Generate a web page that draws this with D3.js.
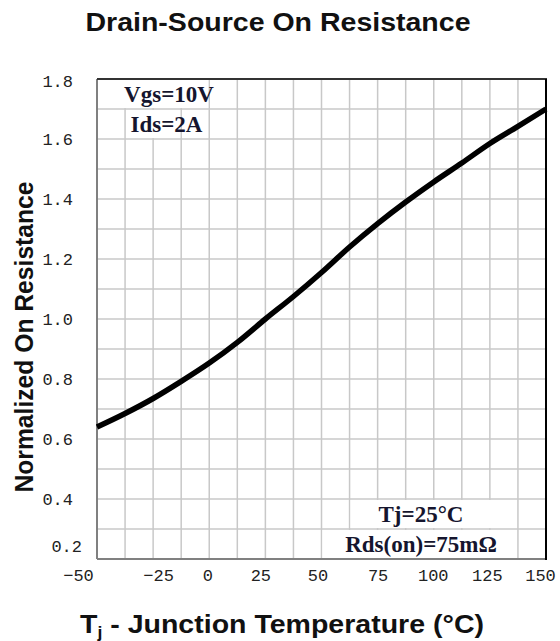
<!DOCTYPE html>
<html><head><meta charset="utf-8">
<script src="https://cdn.jsdelivr.net/npm/d3@7"></script>
<style>body{margin:0;background:#fff}svg{display:block}</style>
</head><body><svg id="c" width="560" height="641"></svg>
<script>
const temps = [-50,-37.5,-25,-12.5,0,12.5,25,37.5,50,62.5,75,87.5,100,112.5,125,137.5,150];
const resistance = [0.64,0.685,0.735,0.792,0.853,0.922,1.0,1.075,1.155,1.24,1.318,1.39,1.457,1.52,1.585,1.642,1.70];
const xTicks = [-50,-25,0,25,50,75,100,125,150];
const yTicks = [0.2,0.4,0.6,0.8,1.0,1.2,1.4,1.6,1.8];
const xGrid = d3.range(-50, 150.1, 12.5);
const yGrid = d3.range(2, 18.1, 1).map(d => d/10);
const titleText = "Drain-Source On Resistance";
const yTitle = "Normalized On Resistance";
const noteTop = ["Vgs=10V","Ids=2A"];
const noteBottom = ["Tj=25°C","Rds(on)=75mΩ"];

const svg = d3.select("#c");
const L = 97, R = 546, T = 79, B = 559;
const x = d3.scaleLinear().domain([-50,150]).range([L,R]);
const y = d3.scaleLinear().domain([0.2,1.8]).range([B,T]);

// grid
const g = svg.append("g");
g.selectAll(".vx").data(xGrid).join("line")
  .attr("x1", d=>x(d)).attr("x2", d=>x(d)).attr("y1", T).attr("y2", B)
  .attr("stroke", "#c8c8c8").attr("stroke-width", 1.5);
g.selectAll(".hy").data(yGrid).join("line")
  .attr("x1", L).attr("x2", R).attr("y1", d=>y(d)).attr("y2", d=>y(d))
  .attr("stroke", "#c8c8c8").attr("stroke-width", 1.5);

// annotation cells (white, covering grid)
const boxes = [
  {x0:-50, x1:0, y0:1.8, y1:1.7},
  {x0:-37.5, x1:-12.5, y0:1.7, y1:1.6},
  {x0:62.5, x1:137.5, y0:0.4, y1:0.3},
  {x0:50, x1:137.5, y0:0.3, y1:0.2}
];
g.selectAll(".bx").data(boxes).join("rect")
  .attr("x", d=>x(d.x0)+1).attr("y", d=>y(d.y0)+1)
  .attr("width", d=>x(d.x1)-x(d.x0)-2).attr("height", d=>y(d.y1)-y(d.y0)-2)
  .attr("fill", "#fff");

// frame
svg.append("line").attr("x1",L).attr("x2",L).attr("y1",T).attr("y2",B).attr("stroke","#808080").attr("stroke-width",2);
svg.append("line").attr("x1",L).attr("x2",R).attr("y1",B).attr("y2",B).attr("stroke","#808080").attr("stroke-width",2);
svg.append("line").attr("x1",L).attr("x2",R+1).attr("y1",T).attr("y2",T).attr("stroke","#333").attr("stroke-width",2);
svg.append("line").attr("x1",R).attr("x2",R).attr("y1",T).attr("y2",B+1).attr("stroke","#000").attr("stroke-width",2);

// curve
const line = d3.line().x((d,i)=>x(temps[i])).y(d=>y(d)).curve(d3.curveMonotoneX);
svg.append("path").datum(resistance).attr("d", line)
  .attr("fill","none").attr("stroke","#000").attr("stroke-width",5.5).attr("stroke-linecap","butt");

// axes
const tickFont = "'Liberation Mono', 'DejaVu Sans Mono', monospace";
const xLabelShift = {"-50":-19, "-25":5, "0":-2, "25":-5, "50":-4, "75":0, "100":-1, "125":-3, "150":-6};
const ax = svg.append("g").attr("transform", `translate(0,${B})`)
  .call(d3.axisBottom(x).tickValues(xTicks).tickSize(0).tickPadding(10).tickFormat(d => d<0 ? "−"+Math.abs(d) : d));
ax.select(".domain").remove();
ax.selectAll("text").attr("font-family", tickFont).attr("font-size", 17).attr("fill", "#222")
  .attr("dx", d => xLabelShift[String(d)]);

const ay = svg.append("g").attr("transform", `translate(${L-24},0)`)
  .call(d3.axisLeft(y).tickValues(yTicks).tickSize(0).tickPadding(0).tickFormat(d3.format(".1f")));
ay.select(".domain").remove();
ay.selectAll("text").attr("font-family", tickFont).attr("font-size", 17).attr("fill", "#222")
  .attr("dy", d => d===1.8 ? "0.45em" : (d===0.2 ? "-0.45em" : "0.32em"))
  .attr("dx", d => d===0.2 ? 9 : 0);

// titles
const titleFont = "'Liberation Sans', Arial, sans-serif";
svg.append("text").attr("x", 278).attr("y", 31).attr("text-anchor","middle")
  .attr("font-family", titleFont).attr("font-weight","bold").attr("font-size",26).attr("fill","#111")
  .attr("textLength", 385).attr("lengthAdjust","spacingAndGlyphs")
  .text(titleText);
const xt = svg.append("text").attr("x", 282).attr("y", 633).attr("text-anchor","middle")
  .attr("font-family", titleFont).attr("font-weight","bold").attr("font-size",26).attr("fill","#111")
  .attr("textLength", 404).attr("lengthAdjust","spacingAndGlyphs");
xt.append("tspan").text("T");
xt.append("tspan").attr("font-size",16).attr("dy",5).text("j");
xt.append("tspan").attr("dy",-5).text(" - Junction Temperature (°C)");
svg.append("text").attr("transform","translate(33,337) rotate(-90)").attr("text-anchor","middle")
  .attr("font-family", titleFont).attr("font-weight","bold").attr("font-size",25).attr("fill","#111")
  .attr("textLength", 311).attr("lengthAdjust","spacingAndGlyphs")
  .text(yTitle);

// notes
const noteFont = "'Liberation Serif', 'Times New Roman', serif";
svg.selectAll(".nt").data(noteTop).join("text")
  .attr("x", (d,i)=> i===0 ? 169 : 166.5)
  .attr("y", (d,i)=> y(1.75 - i*0.1) + 8)
  .attr("text-anchor","middle").attr("font-family", noteFont).attr("font-weight","bold")
  .attr("font-size",23).attr("fill","#15152e").text(d=>d);
svg.selectAll(".nb").data(noteBottom).join("text")
  .attr("x", 421)
  .attr("y", (d,i)=> y(0.35 - i*0.1) + 8)
  .attr("text-anchor","middle").attr("font-family", noteFont).attr("font-weight","bold")
  .attr("font-size",23).attr("fill","#15152e").text(d=>d);
</script></body></html>
